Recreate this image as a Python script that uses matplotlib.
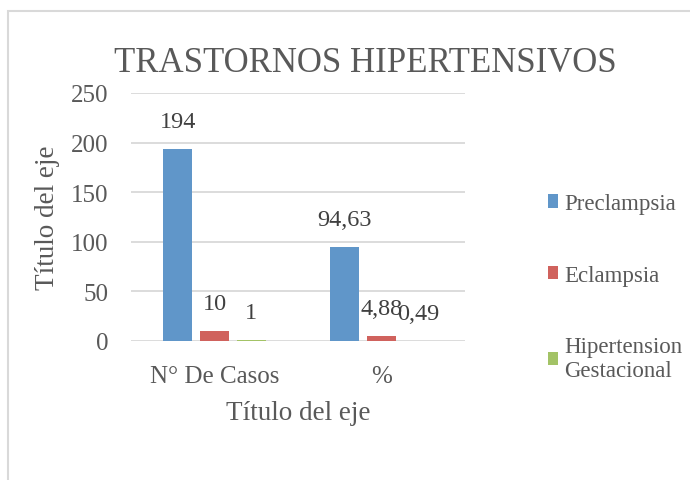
import matplotlib.pyplot as plt
from matplotlib.patches import Rectangle
import numpy as np

categorias = ['N° De Casos', '%']
series = ['Preclampsia', 'Eclampsia', 'Hipertension\nGestacional']
preclampsia = [194, 94.63]
eclampsia = [10, 4.88]
hipertension = [1, 0.49]
etiquetas = [['194', '94,63'], ['10', '4,88'], ['1', '0,49']]
colores = ['#6096C9', '#D0625D', '#A3C366']

plt.rcParams['font.family'] = ['Liberation Serif', 'DejaVu Serif']
texto = '#595959'

fig = plt.figure(figsize=(6.9, 4.81), dpi=100)
W, H = 690, 481
ax = fig.add_axes([131 / W, 1 - 342 / H, (465 - 131) / W, (342 - 94) / H])

# marco del grafico
fig.patches.append(Rectangle((8 / W, -0.1), 1.1, 1 - 12 / H + 0.1, transform=fig.transFigure,
                             fill=False, edgecolor='#D9D9D9', linewidth=1.5))

x = np.arange(len(categorias))
ancho = 0.173
paso = 0.221
for i, (vals, col) in enumerate(zip([preclampsia, eclampsia, hipertension], colores)):
    pos = x + (i - 1) * paso
    ax.bar(pos, vals, ancho, color=col, label=series[i], zorder=3)
    for px, v, lab in zip(pos, vals, etiquetas[i]):
        ax.annotate(lab, (px, v), xytext=(0, 12), textcoords='offset points',
                    ha='center', va='bottom', fontsize=17.5, color='#404040')

ax.set_xlim(-0.5, 1.5)
ax.set_ylim(0, 250)
ax.set_yticks(range(0, 251, 50))
ax.set_xticks(x)
ax.set_xticklabels(categorias)
ax.grid(axis='y', color='#D9D9D9', linewidth=1.3, zorder=0)
for s in ax.spines.values():
    s.set_visible(False)
ax.tick_params(axis='both', length=0, labelsize=18, labelcolor=texto)
ax.tick_params(axis='y', pad=16)
ax.tick_params(axis='x', pad=17)

ax.set_xlabel('Título del eje', fontsize=19.5, color=texto, labelpad=10)
ax.set_ylabel('Título del eje', fontsize=19.5, color=texto, labelpad=8)

fig.text(365 / W, 1 - 64 / H, 'TRASTORNOS HIPERTENSIVOS', ha='center', va='center',
         fontsize=25, color=texto)

leg = fig.legend(loc='upper left', bbox_to_anchor=(539 / W, 1 - 185 / H), frameon=False,
                 fontsize=16.5, labelcolor=texto, labelspacing=2.2, handlelength=0.45,
                 handleheight=0.55, handletextpad=0.25, borderaxespad=0)

fig.savefig('out.png', dpi=100)
